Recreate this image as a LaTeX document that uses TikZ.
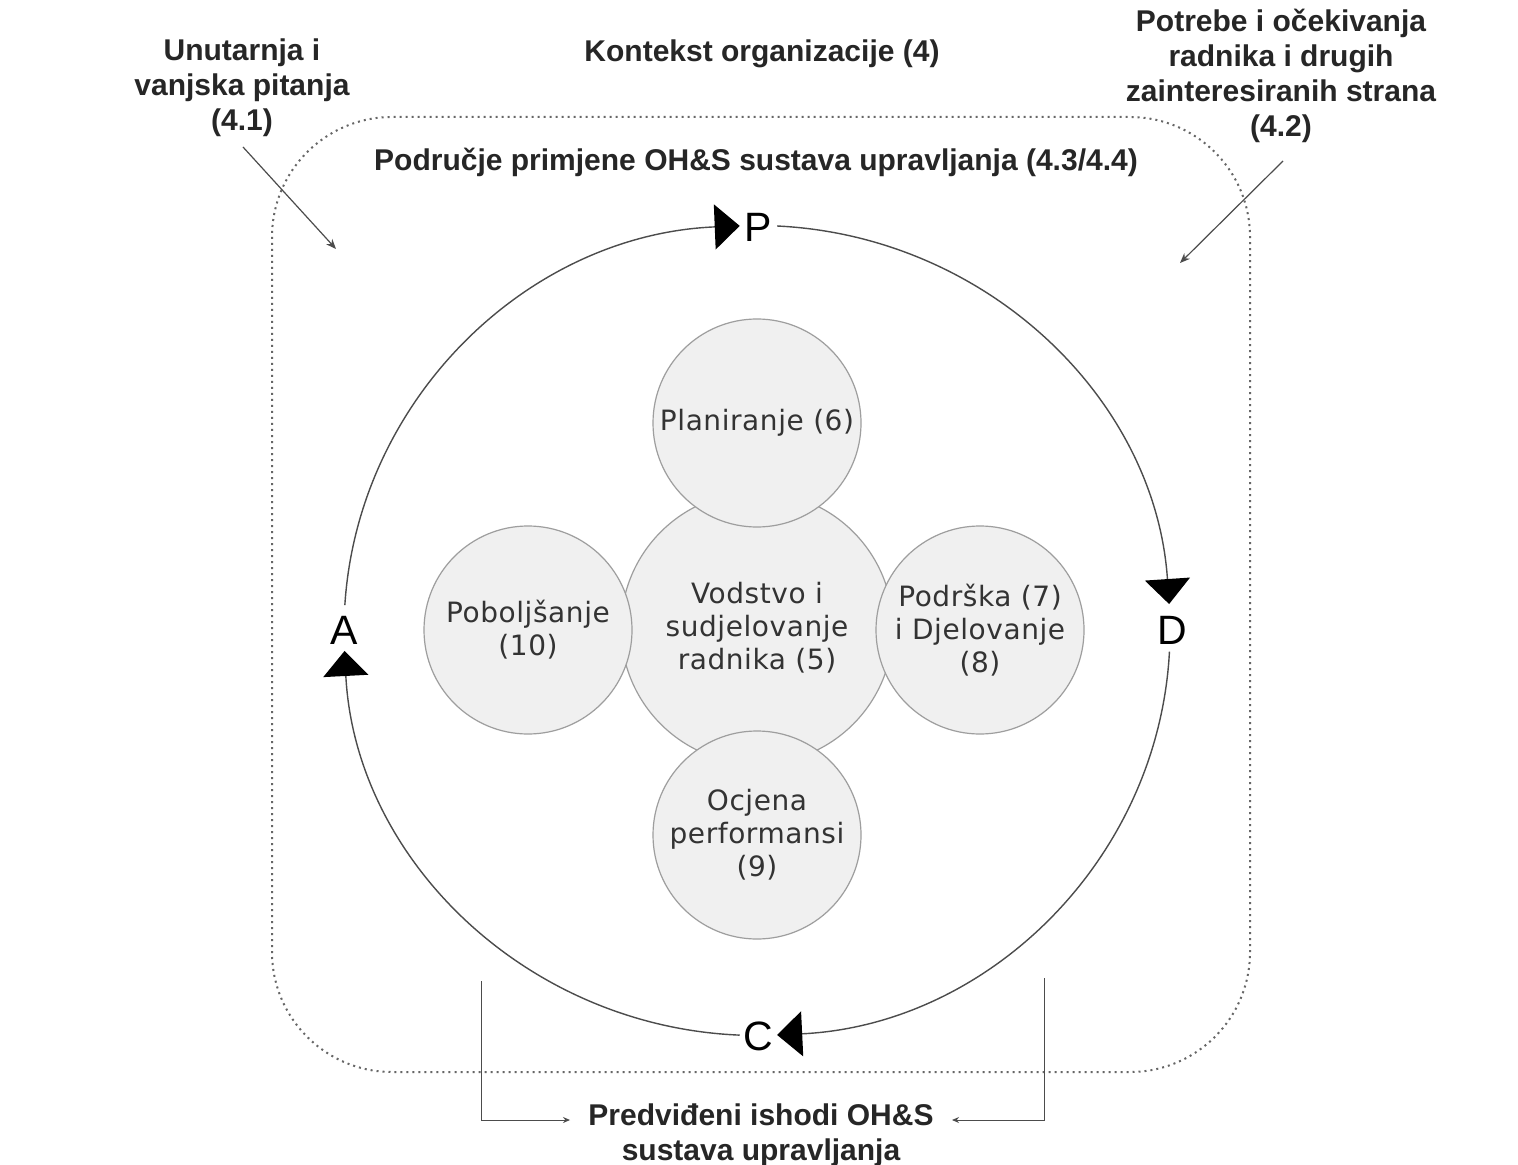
\documentclass[tikz,border=0pt]{standalone}
\usepackage{fontspec}
\setmainfont{Liberation Sans}
\newfontfamily\verd[LetterSpace=2]{DejaVu Sans}
\usetikzlibrary{arrows.meta,calc}
\begin{document}
\begin{tikzpicture}[x=0.5pt,y=0.5pt,
  title/.style={font=\bfseries\fontsize{15}{17.5}\selectfont, text=black!85, align=center, inner sep=0pt},
  bubble/.style={circle, draw=black!38, fill=black!6, line width=0.6pt, minimum size=104pt, inner sep=0pt, align=center, font=\verd\fontsize{14}{16.5}\selectfont, text=black!80},
  letter/.style={font=\fontsize{20.5}{20.5}\selectfont, inner sep=0pt},
  cyc/.style={draw=black!70, line width=0.7pt, -{Triangle[length=12.5pt,width=22.5pt,color=black]}},
  thin/.style={draw=black!70, line width=0.6pt, -{Stealth[length=5pt,width=4pt]}},
  conn/.style={draw=black!70, line width=0.5pt, -{Stealth[length=3.5pt,width=3pt]}}
]
\useasboundingbox (0,0) rectangle (1518,-1165);
\fill[white] (0,0) rectangle (1518,-1165);

% scope frame
\draw[black!60, dotted, line width=1pt, rounded corners=60pt] (272,-117) rectangle (1250,-1072);

% titles
\node[title] (ctx) at (762,-54) {Kontekst organizacije (4)};
\node[title] (scope) at (756,-162) {Područje primjene OH\&S sustava upravljanja (4.3/4.4)};
\node[title] (iss) at (242,-88) {Unutarnja i\\vanjska pitanja\\(4.1)};
\node[title] (need) at (1281,-76) {Potrebe i očekivanja\\radnika i drugih\\zainteresiranih strana\\(4.2)};
\node[title] (out) at (761,-1135) {Predviđeni ishodi OH\&S\\sustava upravljanja};

% arrows from issues / needs
\coordinate (issS) at (243,-147);
\coordinate (issE) at (336,-249);
\coordinate (needS) at (1283,-161);
\coordinate (needE) at (1180,-263);
\draw[thin] (issS) -- (issE);
\draw[thin] (needS) -- (needE);

% PDCA cycle
\coordinate (O) at (757,-630.5);
\node[letter] (P) at (758,-227) {P};
\node[letter] (D) at (1172,-630) {D};
\node[letter] (C) at (758,-1036) {C};
\node[letter] (A) at (344,-630) {A};
\draw[cyc] ($(O)+(176.4:206.5pt and 202.5pt)$) arc[start angle=176.4, end angle=92.4, x radius=206.5pt, y radius=202.5pt];
\draw[cyc] ($(O)+(87.2:206.5pt and 202.5pt)$) arc[start angle=87.2, end angle=3.75, x radius=206.5pt, y radius=202.5pt];
\draw[cyc] ($(O)+(-3.0:206.5pt and 202.5pt)$) arc[start angle=-3.0, end angle=-87.2, x radius=206.5pt, y radius=202.5pt];
\draw[cyc] ($(O)+(-92.4:206.5pt and 202.5pt)$) arc[start angle=-92.4, end angle=-177.1, x radius=206.5pt, y radius=202.5pt];

% bubbles
\node[bubble, minimum size=136pt] (lead) at (757,-628) {Vodstvo i\\sudjelovanje\\radnika (5)};
\node[bubble] (plan) at (757,-423) {Planiranje (6)};
\node[bubble] (impr) at (528,-630) {Poboljšanje\\(10)};
\node[bubble] (supp) at (980,-630) {Podrška (7)\\i Djelovanje\\(8)};
\node[bubble] (eval) at (757,-835) {Ocjena\\performansi\\(9)};

% outcome connectors
\coordinate (bl) at (481,-981);
\coordinate (blE) at (570,-1120);
\coordinate (br) at (1044,-978);
\coordinate (brE) at (952,-1120);
\draw[conn] (bl) |- (blE);
\draw[conn] (br) |- (brE);
\end{tikzpicture}
\end{document}
